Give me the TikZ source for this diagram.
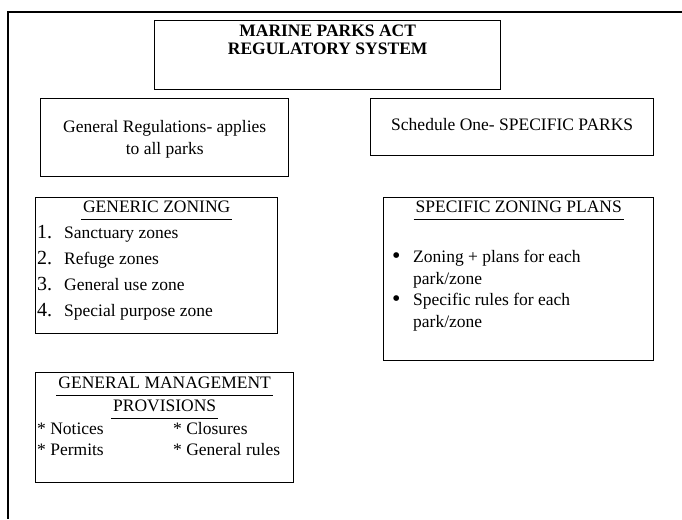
\documentclass[tikz,border=0pt]{standalone}
\usepackage{fontspec}
\setmainfont{Liberation Serif}
\usetikzlibrary{positioning}

\newcommand{\headrule}[1]{\setbox0=\hbox{#1}\leavevmode\rlap{\kern-2pt\rule[-7pt]{\dimexpr\wd0+4pt\relax}{1.1pt}}\box0}
\newcommand{\bigdot}{\makebox[21pt][l]{\raisebox{-1pt}{\fontsize{24}{21.5}\selectfont\textbullet}}}

\tikzset{
  panel/.style={draw, line width=1.4pt, inner sep=0pt, anchor=north west},
  boxtext/.style={inner sep=0pt, align=center, font=\fontsize{17.5}{22}\selectfont},
  listtext/.style={inner sep=0pt, align=left, anchor=north west}
}

\begin{document}
\begin{tikzpicture}[x=1pt,y=1pt]
\useasboundingbox (0,0) rectangle (682,-519);
\coordinate (o) at (0,0);
% frame round the whole page
\coordinate[below right=12pt and 8pt of o](ftl);
\coordinate[right=674pt of ftl](ftr);
\coordinate[below=507pt of ftl](fbl);
\draw[line width=1.4pt] (ftr) -- (ftl) -- (fbl);

% boxes
\node[panel, minimum width=346pt, minimum height=69pt, below right=20pt and 154pt of o](act){};
\node[panel, minimum width=248pt, minimum height=78pt, below right=98pt and 40pt of o](genreg){};
\node[panel, minimum width=283pt, minimum height=57pt, below right=98pt and 370pt of o](sched){};
\node[panel, minimum width=242pt, minimum height=136pt, below right=197pt and 35pt of o](generic){};
\node[panel, minimum width=270pt, minimum height=163pt, below right=197pt and 383pt of o](specific){};
\node[panel, minimum width=258pt, minimum height=110pt, below right=372pt and 35pt of o](gmp){};

% texts
\node[boxtext, font=\fontsize{17.5}{18}\selectfont\bfseries, below=5pt of act.north](acttxt){MARINE PARKS ACT\\REGULATORY SYSTEM};
\node[boxtext, below=22pt of genreg.north](genregtxt){General Regulations- applies\\to all parks};
\node[boxtext, below=20pt of sched.north](schedtxt){Schedule One- SPECIFIC PARKS};

\node[boxtext, below=4pt of generic.north](generichead){\headrule{GENERIC ZONING}};
\node[listtext, font=\fontsize{17.5}{26}\selectfont, below right=28pt and 2pt of generic.north west](genericlist){%
\makebox[27pt][l]{\fontsize{20}{26}\selectfont 1.}Sanctuary zones\\
\makebox[27pt][l]{\fontsize{20}{26}\selectfont 2.}Refuge zones\\
\makebox[27pt][l]{\fontsize{20}{26}\selectfont 3.}General use zone\\
\makebox[27pt][l]{\fontsize{20}{26}\selectfont 4.}Special purpose zone};

\node[boxtext, below=4pt of specific.north](specifichead){\headrule{SPECIFIC ZONING PLANS}};
\node[listtext, font=\fontsize{17.5}{21.5}\selectfont, below right=53pt and 9pt of specific.north west](specificlist){%
\bigdot Zoning + plans for each\\
\hspace*{21pt}park/zone\\
\bigdot Specific rules for each\\
\hspace*{21pt}park/zone};

\node[boxtext, font=\fontsize{17.5}{23}\selectfont, below=5pt of gmp.north](gmphead){\headrule{GENERAL MANAGEMENT}\\\headrule{PROVISIONS}};
\node[listtext, font=\fontsize{17.5}{21}\selectfont, below right=50pt and 2pt of gmp.north west](gmplist){%
\makebox[136pt][l]{* Notices}* Closures\\
\makebox[136pt][l]{* Permits}* General rules};
\end{tikzpicture}
\end{document}
